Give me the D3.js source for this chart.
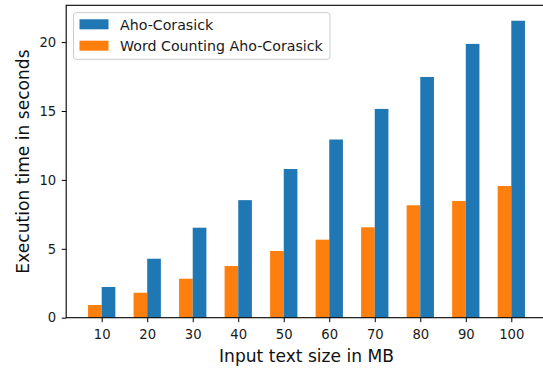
<!DOCTYPE html>
<html>
<head>
<meta charset="utf-8">
<script src="https://cdn.jsdelivr.net/npm/d3@7"></script>
<style>
  body { margin: 0; background: #fff; }
  svg { display: block; font-family: "DejaVu Sans", sans-serif; }
</style>
</head>
<body>
<div id="chart"></div>
<script>
// data
var sizes = [10, 20, 30, 40, 50, 60, 70, 80, 90, 100];
var ahoCorasick = [2.23, 4.28, 6.53, 8.53, 10.79, 12.93, 15.15, 17.47, 19.87, 21.55];
var wordCounting = [0.92, 1.81, 2.83, 3.75, 4.84, 5.66, 6.56, 8.16, 8.47, 9.56];
var yTicks = [0, 5, 10, 15, 20];
var seriesNames = ["Aho-Corasick", "Word Counting Aho-Corasick"];

var width = 543, height = 370;
var barW = 3; // in MB units

var svg = d3.select("#chart").append("svg")
  .attr("width", width)
  .attr("height", height);

var x = d3.scaleLinear().domain([2.2, 107.8]).range([66.2, 546.8]);
var y = d3.scaleLinear().domain([0, 22.67]).range([317.7, 5.3]);

// bars
svg.append("g").selectAll("rect.o")
  .data(sizes)
  .enter().append("rect")
  .attr("x", function(d) { return x(d - barW); })
  .attr("width", function(d) { return x(d) - x(d - barW); })
  .attr("y", function(d, i) { return y(wordCounting[i]); })
  .attr("height", function(d, i) { return y(0) - y(wordCounting[i]); })
  .attr("fill", "#ff7f0e");

svg.append("g").selectAll("rect.b")
  .data(sizes)
  .enter().append("rect")
  .attr("x", function(d) { return x(d); })
  .attr("width", function(d) { return x(d + barW) - x(d); })
  .attr("y", function(d, i) { return y(ahoCorasick[i]); })
  .attr("height", function(d, i) { return y(0) - y(ahoCorasick[i]); })
  .attr("fill", "#1f77b4");

// axes
var xAxis = d3.axisBottom(x).tickValues(sizes).tickSize(4.5).tickPadding(7.5);
var gx = svg.append("g").attr("transform", "translate(0," + y(0) + ")").call(xAxis);
var yAxis = d3.axisLeft(y).tickValues(yTicks).tickSize(4.5).tickPadding(5.5);
var gy = svg.append("g").attr("transform", "translate(" + x(2.2) + ",0)").call(yAxis);

[gx, gy].forEach(function(g) {
  g.select(".domain").remove();
  g.selectAll("line").attr("stroke", "#000").attr("stroke-width", 1);
  g.selectAll("text").attr("fill", "#1a1a1a").style("font-size", "13.2px")
    .style("font-family", "DejaVu Sans");
});

// spines
svg.append("rect")
  .attr("x", x(2.2)).attr("y", y(22.67))
  .attr("width", x(107.8) - x(2.2)).attr("height", y(0) - y(22.67))
  .attr("fill", "none").attr("stroke", "#000").attr("stroke-width", 1.1);

// axis labels
svg.append("text")
  .attr("x", (x(2.2) + x(107.8)) / 2).attr("y", 362)
  .attr("text-anchor", "middle")
  .style("font-size", "17.1px").attr("fill", "#111")
  .text("Input text size in MB");

svg.append("text")
  .attr("transform", "translate(28.8," + ((y(0) + y(22.67)) / 2) + ") rotate(-90)")
  .attr("text-anchor", "middle")
  .style("font-size", "17.1px").attr("fill", "#111")
  .text("Execution time in seconds");

// legend
var lg = svg.append("g");
lg.append("rect")
  .attr("x", 73.5).attr("y", 12.7).attr("width", 256.5).attr("height", 46.6)
  .attr("rx", 2.5).attr("fill", "#fff").attr("fill-opacity", 0.8)
  .attr("stroke", "#cccccc").attr("stroke-width", 1);
var colors = ["#1f77b4", "#ff7f0e"];
seriesNames.forEach(function(name, i) {
  lg.append("rect")
    .attr("x", 79.5).attr("y", 19.3 + i * 21.4)
    .attr("width", 29).attr("height", 10)
    .attr("fill", colors[i]);
  lg.append("text")
    .attr("x", 120).attr("y", 29.5 + i * 21.4)
    .style("font-size", "14.2px").attr("fill", "#1a1a1a")
    .text(name);
});
</script>
</body>
</html>
